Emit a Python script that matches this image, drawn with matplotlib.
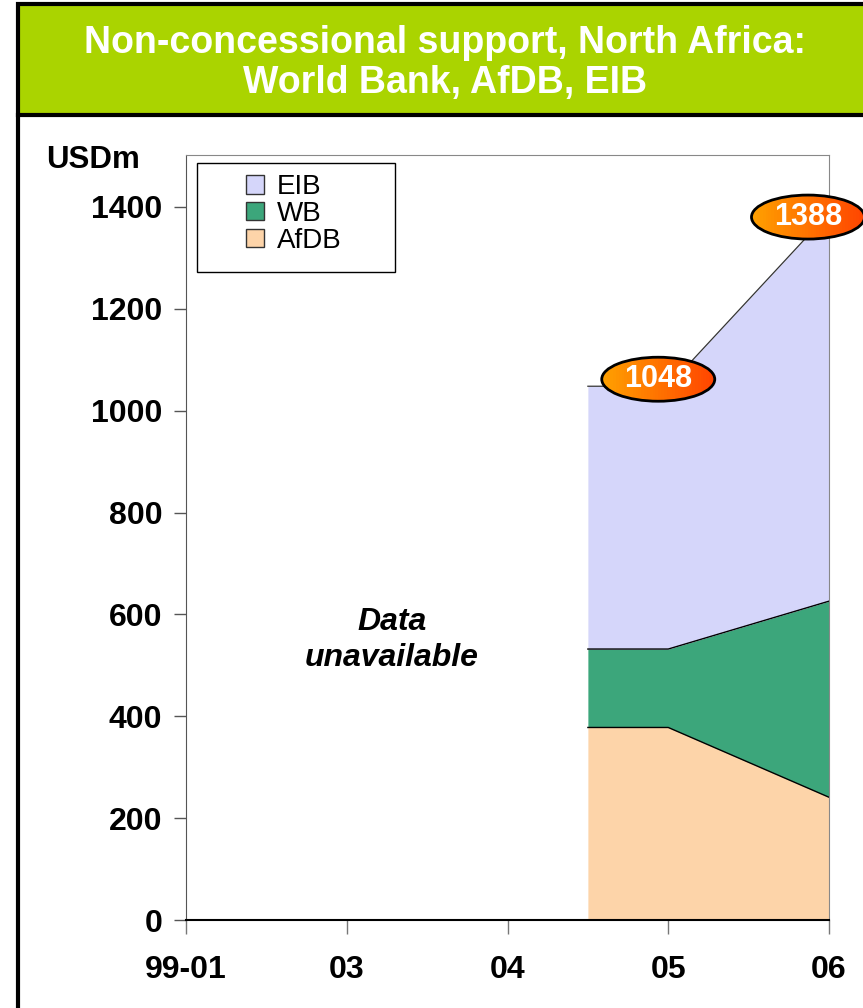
import numpy as np
import matplotlib
matplotlib.use('Agg')
import matplotlib.pyplot as plt
from matplotlib.patches import Rectangle, Ellipse, Patch
from matplotlib.lines import Line2D
from matplotlib.transforms import ScaledTranslation
from matplotlib.colors import to_rgb

plt.rcParams['font.family'] = ['Liberation Sans', 'DejaVu Sans']

# data (USD millions); earlier years unavailable
years = ["99-01", "03", "04", "05", "06"]
afdb = [np.nan, np.nan, np.nan, 378, 241]
wb = [np.nan, np.nan, np.nan, 154, 385]
eib = [np.nan, np.nan, np.nan, 516, 762]
totals = [None, None, None, 1048, 1388]

C_EIB = "#D5D6FA"
C_WB = "#3CA67B"
C_AFDB = "#FDD4A9"
GREEN = "#AAD400"

W, H = 863, 1008
fig = plt.figure(figsize=(W / 100, H / 100), dpi=100)

# banner + frame
fig.add_artist(Rectangle((18 / W, 1 - 115 / H), 1, 111 / H, transform=fig.transFigure,
                         fc=GREEN, ec="black", lw=3))
fig.add_artist(Line2D([18 / W, 18 / W], [0, 1 - 115 / H], transform=fig.transFigure,
                      color="black", lw=3))
fig.text(445 / W, 1 - 63 / H, "Non-concessional support, North Africa:\nWorld Bank, AfDB, EIB",
         ha="center", va="center", color="white", fontsize=27, fontweight="bold",
         linespacing=1.12)

ax = fig.add_axes([186 / W, 1 - 920 / H, (829 - 186) / W, (920 - 155) / H])

x = np.arange(len(years))
avail = [i for i in range(len(years)) if not np.isnan(afdb[i])]
i0 = avail[0]
# area starts half a category before first available year
xs = np.concatenate([[x[i0] - 0.5], x[avail]])
def ext(v):
    v = np.array(v, dtype=float)[avail]
    return np.concatenate([[v[0]], v])

a = ext(afdb)
b = a + ext(wb)
c = b + ext(eib)

ax.fill_between(xs, 0, a, color=C_AFDB, lw=0)
ax.fill_between(xs, a, b, color=C_WB, lw=0)
ax.fill_between(xs, b, c, color=C_EIB, lw=0)
ax.plot(xs, a, color="black", lw=1)
ax.plot(xs, b, color="black", lw=1)
ax.plot(xs, c, color="#333333", lw=0.9)

ax.set_xlim(0, len(years) - 1)
ax.set_ylim(0, 1502)
ax.set_yticks(np.arange(0, 1401, 200))
ax.set_xticks(x)
ax.set_xticklabels(years)
for lab in ax.get_xticklabels() + ax.get_yticklabels():
    lab.set_fontweight("bold")
    lab.set_fontsize(23)
ax.tick_params(axis="y", direction="out", length=9, width=1, color="#555555", pad=8)
ax.tick_params(axis="x", direction="out", length=10, width=1, color="#777777", pad=15)
ax.spines["left"].set_color("#555555")
ax.spines["bottom"].set_color("black")
ax.spines["bottom"].set_linewidth(1.5)
for s in ("top", "right"):
    ax.spines[s].set_color("#888888")

fig.text(93 / W, 1 - 160 / H, "USDm", ha="center", va="center", fontsize=22.5, fontweight="bold")

ax.text(1.28, 550, "Data\nunavailable", ha="center", va="center", fontsize=23,
        fontweight="bold", style="italic", linespacing=1.25)

# legend frame drawn separately (wide box with offset entries)
ax.add_patch(Rectangle((11 / 643, 1 - 117 / 765), 198 / 643, 109 / 765, transform=ax.transAxes,
                       fc="white", ec="black", lw=1, zorder=4))
handles = [Patch(fc=C_EIB, ec="#333333", lw=1), Patch(fc=C_WB, ec="#333333", lw=1),
           Patch(fc=C_AFDB, ec="#333333", lw=1)]
leg = ax.legend(handles, ["EIB", "WB", "AfDB"], loc="upper left",
                bbox_to_anchor=(60 / 643, 1 - 19 / 765), fontsize=20, frameon=False,
                handlelength=0.65, handleheight=0.65, handletextpad=0.45,
                labelspacing=0.03, borderpad=0, borderaxespad=0)
leg.set_zorder(5)

# total labels in gradient ellipses
offsets = {3: (-10, 7), 4: (-21, -4)}
c0, c1 = np.array(to_rgb("#FFA000")), np.array(to_rgb("#FF4500"))
for i, (dx, dy) in offsets.items():
    tr = fig.dpi_scale_trans + ScaledTranslation(x[i], c[list(xs).index(x[i])], ax.transData)
    cx, cy = dx / 100, dy / 100
    ew, eh = 1.13, 0.44
    ell = Ellipse((cx, cy), ew, eh, transform=tr, fc="none", ec="black", lw=2, zorder=6)
    n = 40
    for k in range(n):
        t = k / (n - 1)
        r = Rectangle((cx - ew / 2 + k * ew / n, cy - eh / 2), ew / n * 1.1, eh,
                      transform=tr, fc=c0 * (1 - t) + c1 * t, lw=0, zorder=5)
        fig.add_artist(r)
        r.set_clip_path(ell)
    fig.add_artist(ell)
    fig.text(cx, cy, str(totals[i]), transform=tr, ha="center", va="center",
             color="white", fontsize=22, fontweight="bold", zorder=7)

fig.savefig("out.png", dpi=100)
